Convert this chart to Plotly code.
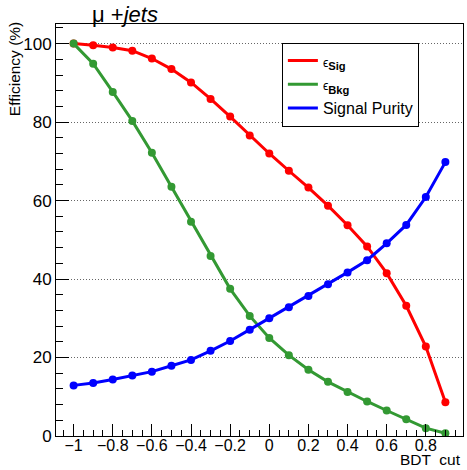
import plotly.graph_objects as go

bdt_cut = [-1.0, -0.9, -0.8, -0.7, -0.6, -0.5, -0.4, -0.3, -0.2, -0.1,
           0.0, 0.1, 0.2, 0.3, 0.4, 0.5, 0.6, 0.7, 0.8, 0.9]
eff_sig = [100.0, 99.6, 99.0, 98.2, 96.2, 93.5, 90.1, 85.9, 81.4, 76.6,
           72.0, 67.6, 63.3, 58.7, 53.7, 48.3, 41.5, 33.2, 22.8, 8.6]
eff_bkg = [100.0, 94.9, 87.7, 80.3, 72.2, 63.5, 54.6, 45.9, 37.5, 30.6,
           25.0, 20.6, 16.9, 13.8, 11.2, 8.8, 6.5, 4.3, 2.0, 0.7]
purity = [12.9, 13.5, 14.4, 15.4, 16.4, 17.9, 19.4, 21.7, 24.2, 27.1,
          30.0, 32.8, 35.7, 38.7, 41.7, 44.8, 49.1, 53.8, 60.9, 69.8]

series_names = ["<span style='font-size:12px'>ϵ</span><sub><b>Sig</b></sub>",
                "<span style='font-size:12px'>ϵ</span><sub><b>Bkg</b></sub>",
                "Signal Purity"]
series_values = [eff_sig, eff_bkg, purity]
series_colors = ["#ff0000", "#339933", "#0000ff"]

FONT = "Liberation Sans, Arial, Helvetica, sans-serif"

fig = go.Figure()
for name, vals, col in zip(series_names, series_values, series_colors):
    fig.add_trace(go.Scatter(x=bdt_cut, y=vals, mode="lines", name=name,
                             line=dict(color=col, width=3)))
    fig.add_trace(go.Scatter(x=bdt_cut, y=vals, mode="markers", showlegend=False,
                             marker=dict(color=col, size=8), hoverinfo="skip"))

fig.update_layout(
    width=467, height=470,
    margin=dict(l=56, r=4, t=24, b=34),
    paper_bgcolor="white", plot_bgcolor="white",
    font=dict(family=FONT, color="black", size=17),
    legend=dict(x=0.555, y=0.955, xanchor="left", yanchor="top",
                bgcolor="white", bordercolor="black", borderwidth=1,
                font=dict(size=16, family=FONT), tracegroupgap=0),
    showlegend=True,
)
fig.update_xaxes(
    range=[-1.09, 0.99], showgrid=False, zeroline=False,
    showline=True, linecolor="black", linewidth=1, mirror=True,
    ticks="inside", ticklen=12, tickcolor="black", dtick=0.2, tick0=0,
    tickfont=dict(size=16), ticklabelstandoff=-5,
    minor=dict(ticks="inside", ticklen=6, dtick=0.05, tickcolor="black", showgrid=False),
)
fig.update_yaxes(
    range=[0, 105], showgrid=True, gridcolor="#666666", griddash="1px,2px", gridwidth=1,
    zeroline=False, showline=True, linecolor="black", linewidth=1, mirror=True,
    ticks="inside", ticklen=13, tickcolor="black", dtick=20, tick0=0,
    tickfont=dict(size=17),
    minor=dict(ticks="inside", ticklen=7, dtick=4, tickcolor="black", showgrid=False),
)

fig.add_annotation(xref="paper", yref="paper", x=1.0, y=-0.0825,
                   xanchor="right", yanchor="bottom", showarrow=False,
                   text="BDT  cut", font=dict(size=15.5, family=FONT))
fig.add_annotation(xref="paper", yref="paper", x=-0.1, y=1.01,
                   xanchor="center", yanchor="top", showarrow=False, textangle=-90,
                   text="Efficiency (%)", font=dict(size=15.5, family=FONT))
fig.add_annotation(xref="paper", yref="paper", x=0.083, y=1.022,
                   xanchor="left", yanchor="middle", showarrow=False,
                   text="μ +<i>jets</i>", font=dict(size=22, family=FONT))

fig.write_html("out.html")
